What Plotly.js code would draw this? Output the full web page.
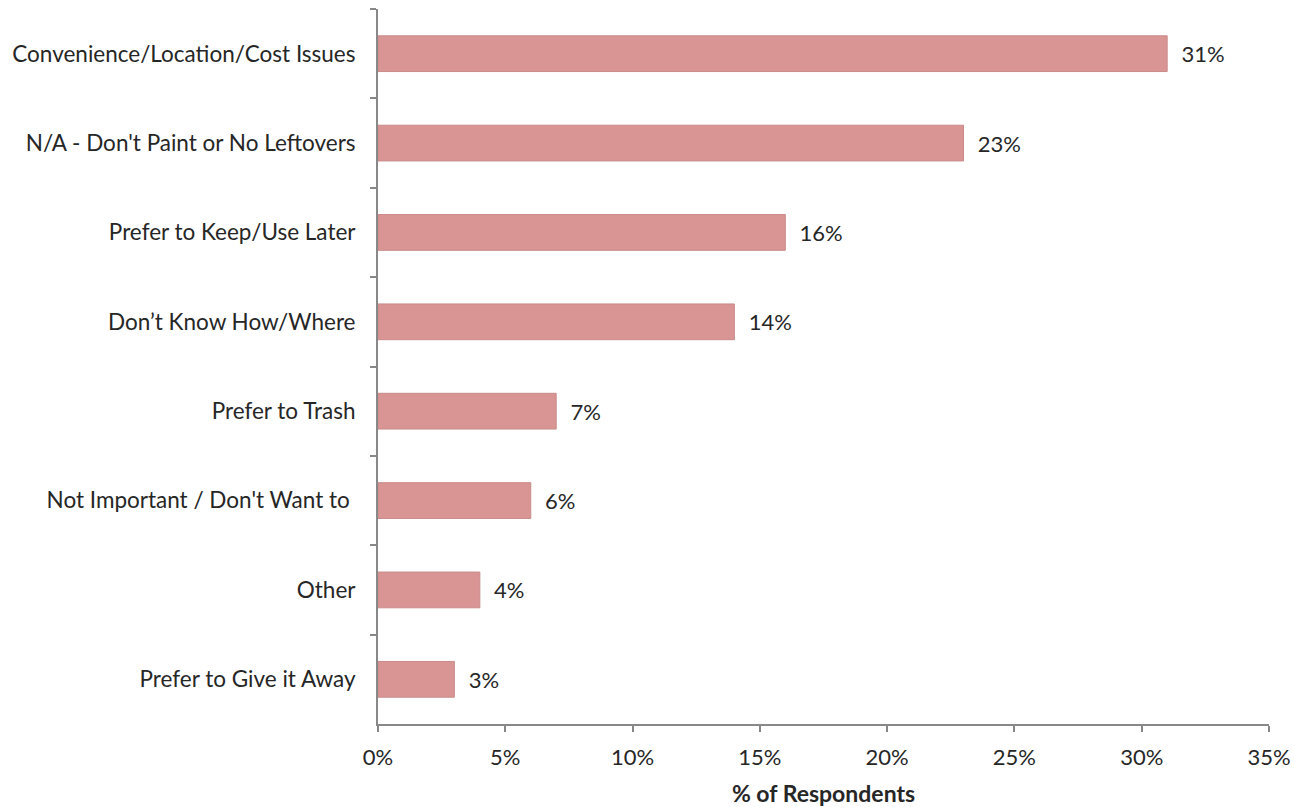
<!DOCTYPE html>
<html>
<head>
<meta charset="utf-8">
<script src="https://cdn.plot.ly/plotly-3.0.1.min.js"></script>
<style>html,body{margin:0;padding:0;background:#fff;}#chart{width:1294px;height:807px;}</style>
</head>
<body>
<div id="chart"></div>
<script>
const categories = [
  "Convenience/Location/Cost Issues",
  "N/A - Don't Paint or No Leftovers",
  "Prefer to Keep/Use Later",
  "Don\u2019t Know How/Where",
  "Prefer to Trash",
  "Not Important / Don't Want to ",
  "Other",
  "Prefer to Give it Away"
];
const values = [31, 23, 16, 14, 7, 6, 4, 3];
const xTickVals = [0, 5, 10, 15, 20, 25, 30, 35];
const xTickText = ["0%", "5%", "10%", "15%", "20%", "25%", "30%", "35%"];

const font = "Lato, 'Open Sans', sans-serif";

const trace = {
  type: "bar",
  orientation: "h",
  x: values,
  y: categories,
  marker: { color: "#D99594", line: { color: "#C98A89", width: 1 } },
  text: values.map(v => "  " + v + "%"),
  textposition: "outside",
  cliponaxis: false,
  textfont: { family: font, size: 22, color: "#262626" },
  hoverinfo: "skip"
};

const layout = {
  width: 1294, height: 807,
  margin: { l: 378, r: 25, t: 9, b: 83 },
  paper_bgcolor: "#fff", plot_bgcolor: "#fff",
  bargap: 0.6,
  showlegend: false,
  font: { family: font, size: 22, color: "#262626" },
  xaxis: {
    range: [0, 35],
    tickvals: xTickVals,
    ticktext: xTickText,
    showgrid: false,
    zeroline: false,
    showline: true,
    linecolor: "#888888",
    linewidth: 2,
    ticks: "outside",
    ticklen: 6,
    tickwidth: 2,
    tickcolor: "#888888",
    ticklabelstandoff: 7,
    tickfont: { family: font, size: 22, color: "#262626" },
    title: { text: "% of Respondents", font: { family: font, size: 23, color: "#262626", weight: "bold" }, standoff: 16 }
  },
  yaxis: {
    autorange: "reversed",
    showgrid: false,
    zeroline: false,
    showline: true,
    linecolor: "#888888",
    linewidth: 2,
    ticks: "outside",
    tickson: "boundaries",
    ticklen: 6,
    tickwidth: 2,
    tickcolor: "#888888",
    ticklabelstandoff: 16,
    tickfont: { family: font, size: 22.5, color: "#262626" }
  }
};

Plotly.newPlot("chart", [trace], layout, { displayModeBar: false, staticPlot: true });
</script>
</body>
</html>
